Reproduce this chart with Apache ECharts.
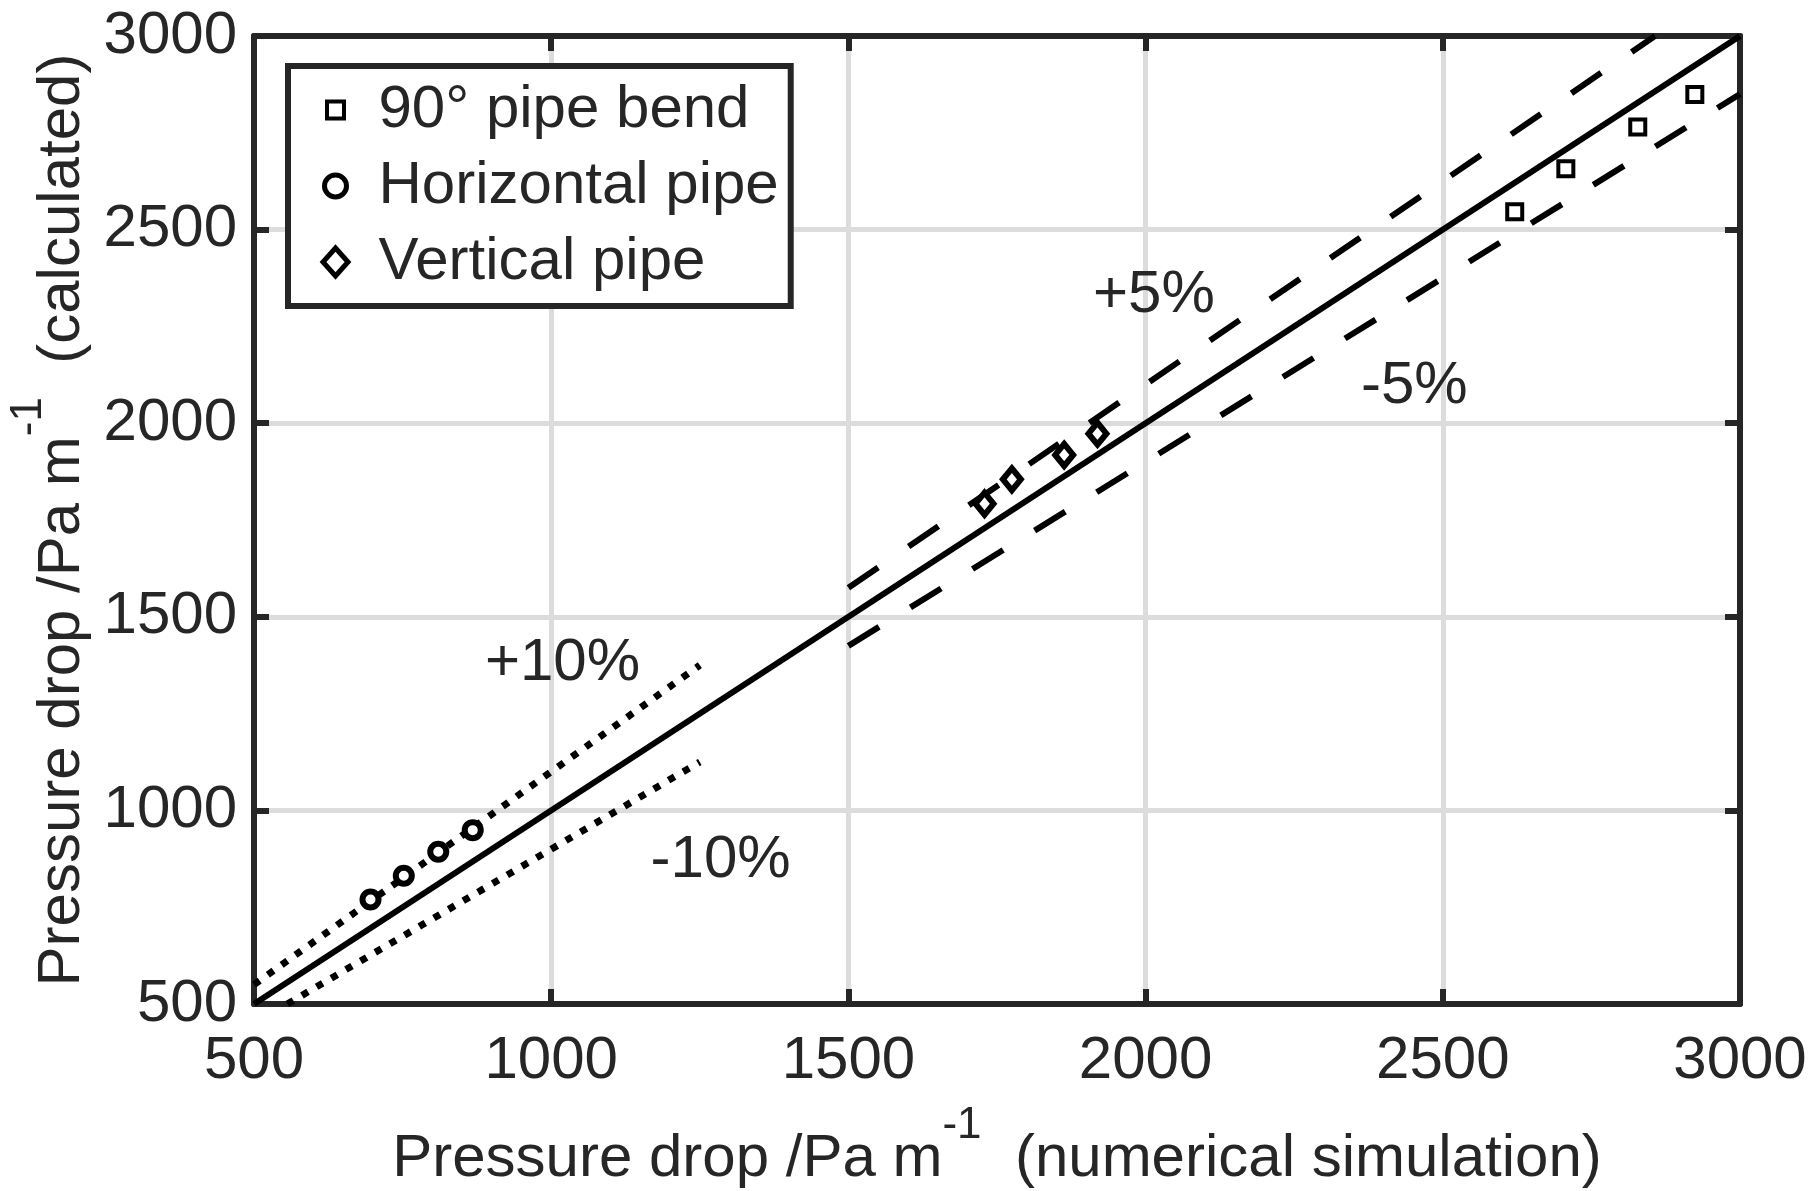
<!DOCTYPE html>
<html>
<head>
<meta charset="utf-8">
<script src="https://cdn.jsdelivr.net/npm/echarts@6/dist/echarts.min.js"></script>
<style>
  html, body { margin: 0; padding: 0; background: #fff; }
  #chart { width: 1811px; height: 1191px; }
</style>
</head>
<body>
<div id="chart"></div>
<script>
// measured points (x = numerical simulation, y = calculated)
const bendX = [2621, 2707, 2828, 2924];
const bendY = [2546, 2657, 2765, 2849];
const horizX = [696, 752, 810, 868];
const horizY = [770, 831, 893, 949];
const vertX = [1729, 1775, 1863, 1919];
const vertY = [1792, 1855, 1918, 1973];

// reference lines, end points only
const parityX = [500, 3000];
const parityY = [500, 3000];
const plus5X = [1500, 2857];
const plus5Y = [1575, 3000];
const minus5X = [1500, 3000];
const minus5Y = [1425, 2850];
const plus10X = [500, 1250];
const plus10Y = [550, 1375];
const minus10X = [556, 1250];
const minus10Y = [500, 1125];

// band labels
const annoX = [2014, 2452, 1019, 1285];
const annoY = [2329, 2095, 1380, 871];
const annoText = ['+5%', '-5%', '+10%', '-10%'];

const tickMin = 500, tickMax = 3000, tickStep = 500;

const FONT = '"Liberation Sans", Arial, Helvetica, sans-serif';
const INK = '#262626';
const FS = 60;

const pairs = (xs, ys) => xs.map((x, i) => [x, ys[i]]);

function makeAxis(position, labels) {
  return {
    type: 'value',
    position,
    min: tickMin, max: tickMax, interval: tickStep,
    axisLine: { show: true, onZero: false, lineStyle: { color: INK, width: 6 } },
    axisTick: { show: true, inside: true, length: 15, lineStyle: { color: INK, width: 6 } },
    axisLabel: labels ? {
      show: true, fontSize: FS, color: INK, fontFamily: FONT,
      margin: position === 'bottom' ? 27 : 17,
      formatter: v => String(v)
    } : { show: false },
    splitLine: labels ? { show: true, lineStyle: { color: '#dcdcdc', width: 5 } } : { show: false }
  };
}

function refLine(xs, ys, type, width) {
  return {
    type: 'line', data: pairs(xs, ys), symbol: 'none', silent: true,
    lineStyle: { color: '#000', width, type, cap: 'butt', opacity: 1 },
    emphasis: { disabled: true }, z: 2
  };
}

function markers(name, xs, ys, symbol, size, bw) {
  return {
    name, type: 'scatter', data: pairs(xs, ys), symbol, symbolSize: size,
    itemStyle: { color: '#fff', borderColor: '#000', borderWidth: bw, opacity: 1 },
    emphasis: { disabled: true }, z: 3
  };
}

// superscript sits at the top of a tall line box
const nameStyle = {
  fontSize: FS, color: INK, fontFamily: FONT, lineHeight: 110,
  rich: { sup: { fontSize: 44, color: INK, fontFamily: FONT, verticalAlign: 'top', lineHeight: 46 } }
};

const xName = makeAxis('bottom', true);
Object.assign(xName, {
  name: 'Pressure drop /Pa m{sup|-1}  (numerical simulation)',
  nameLocation: 'middle', nameGap: 100, nameMoveOverlap: false, nameTextStyle: nameStyle
});
const yName = makeAxis('left', true);
Object.assign(yName, {
  name: 'Pressure drop /Pa m{sup|-1}  (calculated)',
  nameLocation: 'middle', nameGap: 137, nameMoveOverlap: false, nameTextStyle: nameStyle
});

// legend icons: bounding box spans the whole item cell, glyph centred in it
const iconSquare = 'path://M0,0M76,28M29.5,5.5H46.5V22.5H29.5Z';
const iconCircle = 'path://M0,0M76,28M49,14A11,11,0,1,1,27,14A11,11,0,1,1,49,14Z';
const iconDiamond = 'path://M0,0M76,28M38,0L50.5,14L38,28L25.5,14Z';

const chart = echarts.init(document.getElementById('chart'), null, { renderer: 'canvas' });
chart.setOption({
  animation: false,
  backgroundColor: '#fff',
  textStyle: { fontFamily: FONT },
  grid: { left: 254, right: 71, top: 36, bottom: 187, containLabel: false, outerBoundsMode: 'none' },
  xAxis: [xName, makeAxis('top', false)],
  yAxis: [yName, makeAxis('right', false)],
  legend: {
    orient: 'vertical', left: 288, top: 66,
    padding: [14, 12, 14, 7],
    itemWidth: 76, itemHeight: 28, itemGap: 16,
    backgroundColor: '#fff', borderColor: INK, borderWidth: 6, borderRadius: 0,
    textStyle: { fontSize: FS, lineHeight: 60, color: INK, fontFamily: FONT },
    itemStyle: { color: '#fff', borderColor: '#000', borderWidth: 5, opacity: 1 },
    selectedMode: false,
    data: [
      { name: '90° pipe bend', icon: iconSquare, itemStyle: { borderWidth: 4 } },
      { name: 'Horizontal pipe', icon: iconCircle },
      { name: 'Vertical pipe', icon: iconDiamond }
    ]
  },
  series: [
    refLine(parityX, parityY, 'solid', 6),
    refLine(plus5X, plus5Y, [36, 37], 6),
    refLine(minus5X, minus5Y, [36, 37], 6),
    refLine(plus10X, plus10Y, [7, 10], 7),
    refLine(minus10X, minus10Y, [7, 10], 7),
    markers('90° pipe bend', bendX, bendY, 'rect', 15, 4),
    markers('Horizontal pipe', horizX, horizY, 'circle', 16, 6),
    markers('Vertical pipe', vertX, vertY, 'diamond', [18, 22], 6),
    {
      type: 'scatter', data: annoX.map((x, i) => [x, annoY[i], annoText[i]]),
      symbolSize: 0, silent: true, z: 4,
      itemStyle: { opacity: 1 },
      label: {
        show: true, position: 'inside', formatter: p => p.data[2],
        fontSize: FS, color: INK, fontFamily: FONT, opacity: 1
      }
    }
  ]
});
</script>
</body>
</html>
